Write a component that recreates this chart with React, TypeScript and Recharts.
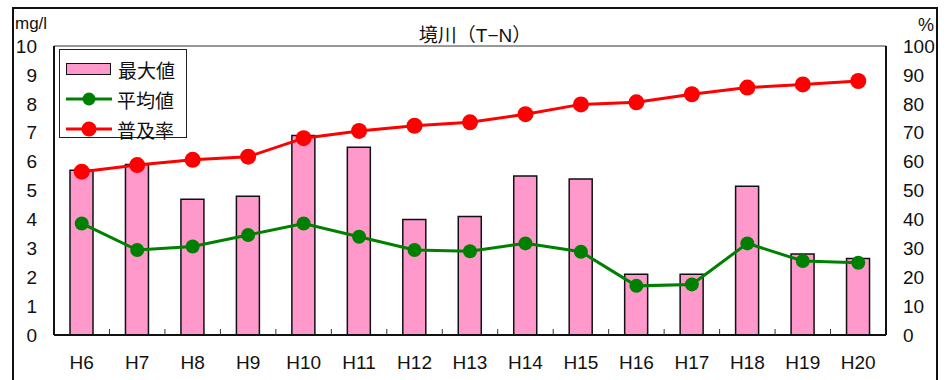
import { ComposedChart, Bar, Line, XAxis, YAxis, CartesianGrid } from 'recharts'

const years = ['H6', 'H7', 'H8', 'H9', 'H10', 'H11', 'H12', 'H13', 'H14', 'H15', 'H16', 'H17', 'H18', 'H19', 'H20']
const maxValues = [5.7, 5.9, 4.7, 4.8, 6.9, 6.5, 4.0, 4.1, 5.5, 5.4, 2.1, 2.1, 5.15, 2.8, 2.65]
const avgValues = [3.86, 2.94, 3.06, 3.46, 3.86, 3.4, 2.94, 2.9, 3.17, 2.88, 1.7, 1.75, 3.17, 2.56, 2.5]
const coverage = [56.5, 58.8, 60.6, 61.7, 68.1, 70.6, 72.4, 73.6, 76.4, 79.8, 80.5, 83.3, 85.6, 86.7, 87.9]
const leftTicks = [0, 1, 2, 3, 4, 5, 6, 7, 8, 9, 10]
const rightTicks = [0, 10, 20, 30, 40, 50, 60, 70, 80, 90, 100]

const data = years.map((y, i) => ({ year: y, max: maxValues[i], avg: avgValues[i], rate: coverage[i] }))

const font = '"Liberation Sans", "Noto Sans CJK JP", sans-serif'

// x labels plus the little boundary ticks between categories
const XTick = (props: any) => {
    const { x, y, payload, index } = props
    const off = payload.offset || 0
    const axisY = y - 22
    return (
        <g>
            <text x={x} y={y} dy={12} textAnchor="middle" fontSize={19} fill="#111" fontFamily={font}>{payload.value}</text>
            {index < years.length - 1 && (
                <line x1={x + off} x2={x + off} y1={axisY} y2={axisY - 6} stroke="#333" strokeWidth={1} />
            )}
        </g>
    )
}

const LegendBox = () => (
    <div style={{ position: 'absolute', left: 59, top: 49, background: '#fff', border: '1.5px solid #222', width: 128, height: 89, boxSizing: 'border-box', padding: '4px 0 0 6px', fontFamily: font }}>
        <div style={{ display: 'flex', alignItems: 'center', height: 30 }}>
            <div style={{ width: 43, height: 10, background: '#ff99cc', border: '1.5px solid #111' }} />
            <span style={{ marginLeft: 7, fontSize: 19, color: '#111' }}>最大値</span>
        </div>
        <div style={{ display: 'flex', alignItems: 'center', height: 30 }}>
            <svg width={46} height={16}>
                <line x1={0} x2={46} y1={8} y2={8} stroke="#008000" strokeWidth={3} />
                <circle cx={23} cy={8} r={6.5} fill="#008000" />
            </svg>
            <span style={{ marginLeft: 5, fontSize: 19, color: '#111' }}>平均値</span>
        </div>
        <div style={{ display: 'flex', alignItems: 'center', height: 30 }}>
            <svg width={46} height={18}>
                <line x1={0} x2={46} y1={9} y2={9} stroke="#ff0000" strokeWidth={3} />
                <circle cx={23} cy={9} r={7.5} fill="#ff0000" />
            </svg>
            <span style={{ marginLeft: 5, fontSize: 19, color: '#111' }}>普及率</span>
        </div>
    </div>
)

export default function App() {
    return (
        <div style={{ position: 'absolute', left: 0, top: 0, width: 950, height: 380, background: '#fff', overflow: 'hidden' }}>
            <div style={{ position: 'absolute', left: 12, top: 7, width: 926, height: 400, border: '2px solid #111', boxSizing: 'border-box' }} />
            <div style={{ position: 'absolute', left: 0, width: 950, top: 20, textAlign: 'center', fontSize: 19, fontFamily: font, color: '#111' }}>境川（T−N）</div>
            <div style={{ position: 'absolute', left: 15, top: 14, fontSize: 17, fontFamily: font, color: '#111' }}>mg/l</div>
            <div style={{ position: 'absolute', left: 918, top: 15, fontSize: 18, fontFamily: font, color: '#111' }}>%</div>
            <ComposedChart width={950} height={380} data={data} margin={{ top: 46, right: 14, left: 10, bottom: 15 }} style={{ position: 'absolute', left: 0, top: 0 }}>
                <CartesianGrid vertical={false} stroke="#333" strokeWidth={1} />
                <XAxis dataKey="year" height={30} tickLine={false} tickMargin={0} tickSize={22} stroke="#111" strokeWidth={2} tick={<XTick />} interval={0} />
                <YAxis yAxisId="left" domain={[0, 10]} ticks={leftTicks} width={44} tickLine={false} tickSize={0} tickMargin={17}
                    stroke="#111" strokeWidth={2} tick={{ fontSize: 19, fill: '#111', fontFamily: font }} />
                <YAxis yAxisId="right" orientation="right" domain={[0, 100]} ticks={rightTicks} width={50} tickLine={false} tickSize={0} tickMargin={17}
                    stroke="#111" strokeWidth={2} tick={{ fontSize: 19, fill: '#111', fontFamily: font, textAnchor: 'start' }} />
                <Bar yAxisId="left" dataKey="max" name="最大値" fill="#ff99cc" stroke="#111" strokeWidth={1.5} barSize={23} isAnimationActive={false} />
                <Line yAxisId="left" dataKey="avg" name="平均値" stroke="#008000" strokeWidth={3} dot={{ r: 7, fill: '#008000', stroke: '#008000', strokeWidth: 0 }} activeDot={false} isAnimationActive={false} />
                <Line yAxisId="right" dataKey="rate" name="普及率" stroke="#ff0000" strokeWidth={3} dot={{ r: 8, fill: '#ff0000', stroke: '#ff0000', strokeWidth: 0 }} activeDot={false} isAnimationActive={false} />
            </ComposedChart>
            <LegendBox />
        </div>
    )
}
